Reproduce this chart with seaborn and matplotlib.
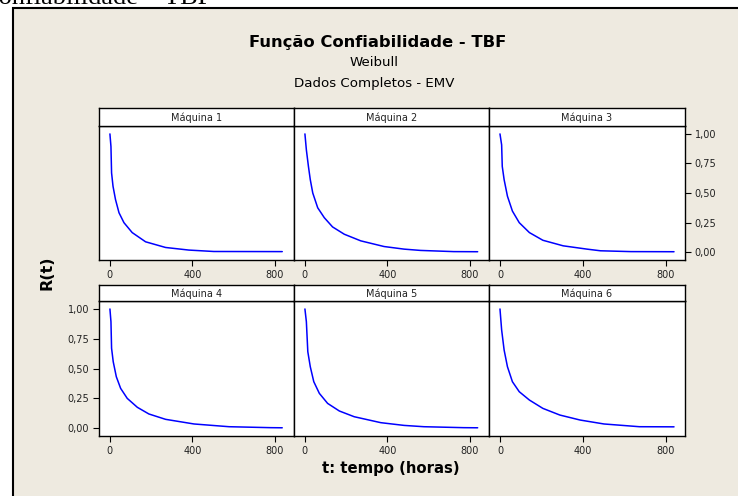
import numpy as np
import pandas as pd
import matplotlib
matplotlib.use("Agg")
import matplotlib.pyplot as plt
from matplotlib.patches import Rectangle
import seaborn as sns

# ---- data ----
maquinas = ["Máquina 1", "Máquina 2", "Máquina 3", "Máquina 4", "Máquina 5", "Máquina 6"]

t_m1 = [0, 5, 8, 15, 27, 44, 68, 108, 173, 270, 383, 504, 836]
r_m1 = [1.0, 0.893, 0.67, 0.557, 0.445, 0.333, 0.249, 0.165, 0.087, 0.039, 0.017, 0.005, 0.004]

t_m2 = [0, 7, 17, 26, 38, 62, 94, 134, 191, 271, 384, 481, 561, 722, 838]
r_m2 = [1.0, 0.865, 0.725, 0.613, 0.50, 0.375, 0.291, 0.213, 0.151, 0.095, 0.047, 0.025, 0.014, 0.004, 0.003]

t_m3 = [0, 8, 11, 20, 36, 60, 93, 142, 207, 305, 420, 485, 632, 840]
r_m3 = [1.0, 0.907, 0.725, 0.613, 0.473, 0.347, 0.249, 0.165, 0.10, 0.053, 0.025, 0.011, 0.004, 0.003]

t_m4 = [0, 5, 8, 16, 31, 52, 84, 133, 189, 270, 408, 578, 780, 836]
r_m4 = [1.0, 0.893, 0.67, 0.557, 0.431, 0.333, 0.249, 0.174, 0.118, 0.073, 0.034, 0.011, 0.003, 0.002]

t_m5 = [0, 7, 14, 26, 43, 70, 110, 167, 239, 368, 481, 577, 770, 838]
r_m5 = [1.0, 0.893, 0.641, 0.515, 0.389, 0.291, 0.207, 0.143, 0.095, 0.045, 0.022, 0.011, 0.003, 0.002]

t_m6 = [0, 8, 20, 36, 60, 93, 142, 207, 289, 387, 502, 673, 840]
r_m6 = [1.0, 0.824, 0.655, 0.515, 0.389, 0.305, 0.235, 0.165, 0.109, 0.067, 0.034, 0.011, 0.010]

x_ticks = [0, 400, 800]
y_ticks = [0.0, 0.25, 0.50, 0.75, 1.0]
y_tick_labels = ["0,00", "0,25", "0,50", "0,75", "1,00"]

titulo = "Função Confiabilidade - TBF"
subtitulo1 = "Weibull"
subtitulo2 = "Dados Completos - EMV"
xlabel = "t: tempo (horas)"
ylabel = "R(t)"
cabecalho = "Confiabilidade – TBF"

ts = [t_m1, t_m2, t_m3, t_m4, t_m5, t_m6]
rs = [r_m1, r_m2, r_m3, r_m4, r_m5, r_m6]
df = pd.concat([pd.DataFrame({"Máquina": m, "t": t, "R": r}) for m, t, r in zip(maquinas, ts, rs)],
               ignore_index=True)

# ---- figure ----
sns.set_style("white")
plt.rcParams["font.family"] = ["DejaVu Sans"]
plt.rcParams["text.color"] = "black"

W, H = 738, 496
fig = plt.figure(figsize=(W / 100, H / 100), dpi=100)
fig.patch.set_facecolor("white")

def fx(x):
    return x / W

def fy(y):
    return 1 - y / H

BG = "#eeeae0"
frame = Rectangle((fx(13), fy(H + 10)), fx(W + 10) - fx(13), fy(8) - fy(H + 10),
                  transform=fig.transFigure, facecolor=BG, edgecolor="black",
                  linewidth=1.5, zorder=-5)
fig.patches.append(frame)

# document heading above the frame (cut off at the top, as in the reference)
fig.text(fx(212), fy(3.5), cabecalho, ha="right", va="baseline",
         family=["Liberation Serif", "DejaVu Serif"], fontsize=19, color="black")

fig.text(fx(378), fy(43), titulo, ha="center", va="center", fontsize=11.8, fontweight="bold")
fig.text(fx(374), fy(63), subtitulo1, ha="center", va="center", fontsize=9.6)
fig.text(fx(374), fy(84), subtitulo2, ha="center", va="center", fontsize=9.6)
fig.text(fx(47), fy(273), ylabel, ha="center", va="center", rotation=90, fontsize=11.5,
         fontweight="bold")
fig.text(fx(391), fy(469), xlabel, ha="center", va="center", fontsize=10.7, fontweight="bold")

col_edges = [99, 294, 489, 685]
row_plot = [(126, 260), (301, 436)]
row_strip = [108, 285]
FS = 7
TC = "#222222"

for i, m in enumerate(maquinas):
    r, c = divmod(i, 3)
    left, right = col_edges[c], col_edges[c + 1]
    top, bottom = row_plot[r]
    ax = fig.add_axes([fx(left), fy(bottom), fx(right) - fx(left), fy(top) - fy(bottom)])
    ax.set_facecolor("white")
    sub = df[df["Máquina"] == m]
    sns.lineplot(data=sub, x="t", y="R", ax=ax, color="#0000ff", linewidth=1.1, legend=False)
    ax.set_xlim(-53, 893)
    ax.set_ylim(-0.067, 1.067)
    ax.set_xlabel("")
    ax.set_ylabel("")
    for s in ax.spines.values():
        s.set_color("black")
        s.set_linewidth(1.0)
    ax.set_xticks(x_ticks)
    ax.set_xticklabels([str(v) for v in x_ticks], fontsize=FS, color=TC)
    ax.tick_params(axis="x", direction="out", length=4, width=0.8, pad=3, bottom=True,
                   color="black")
    ax.set_yticks(y_ticks)
    if i == 2:
        ax.yaxis.tick_right()
        ax.set_yticklabels(y_tick_labels, fontsize=FS, color=TC)
        ax.tick_params(axis="y", direction="out", length=4, width=0.8, pad=3, right=True,
                       left=False, color="black")
    elif i == 3:
        ax.set_yticklabels(y_tick_labels, fontsize=FS, color=TC)
        ax.tick_params(axis="y", direction="out", length=4, width=0.8, pad=3, left=True,
                       color="black")
    else:
        ax.set_yticklabels([])
        ax.tick_params(axis="y", left=False, right=False)

    st = row_strip[r]
    sax = fig.add_axes([fx(left), fy(top), fx(right) - fx(left), fy(st) - fy(top)])
    sax.set_facecolor("white")
    sax.set_xticks([])
    sax.set_yticks([])
    for s in sax.spines.values():
        s.set_color("black")
        s.set_linewidth(1.0)
    sax.text(0.5, 0.45, m, ha="center", va="center", fontsize=FS, color=TC,
             transform=sax.transAxes)

fig.savefig("out.png", dpi=100)
